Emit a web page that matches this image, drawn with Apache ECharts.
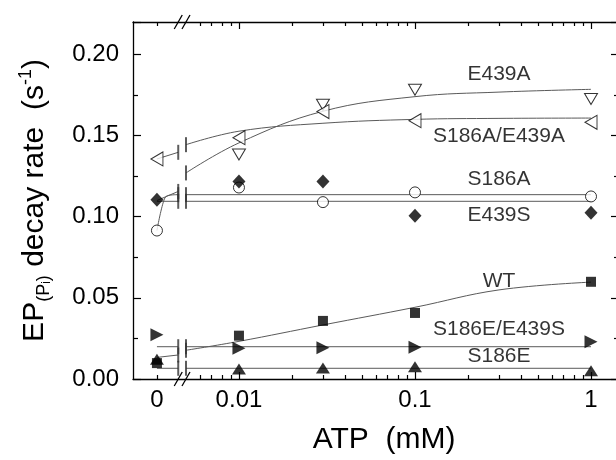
<!DOCTYPE html>
<html>
<head>
<meta charset="utf-8">
<script src="https://cdn.jsdelivr.net/npm/echarts@6/dist/echarts.min.js"></script>
<style>
  html, body { margin: 0; padding: 0; background: #fff; overflow: hidden; }
  #chart { width: 619px; height: 460px; }
</style>
</head>
<body>
<div id="chart"></div>
<script>
// ATP concentrations (mM) of the measured points
const atp = [0, 0.01, 0.03, 0.1, 1];

// measured decay rates (s-1); null where no point is visible
const wt = [0.0098, 0.0267, 0.0358, 0.0407, 0.0599];
const s186eE439s = [0.0272, 0.0190, 0.0193, 0.0196, 0.0230];
const s186e = [0.0121, 0.0062, 0.0068, 0.0076, 0.0051];
const s186a = [0.0915, 0.1180, 0.1090, 0.1150, 0.1125];
const e439s = [0.1105, 0.1217, 0.1217, 0.1006, 0.1025];
const e439a = [null, 0.1383, 0.1690, 0.1782, 0.1725];
const s186aE439a = [0.1356, 0.1487, 0.1648, 0.1592, 0.1582];

// fitted curves: [ATP, rate], part left of the break and part right of it
const wtFitZero = [[0, 0.0133], [0.001, 0.0148]];
const wtFit = [[0.005, 0.0177], [0.01, 0.0232], [0.03, 0.0333], [0.1, 0.0442], [0.3, 0.0549], [1, 0.0597]];
const s186eE439sFitZero = [[0, 0.0199], [0.001, 0.0199]];
const s186eE439sFit = [[0.005, 0.0199], [1, 0.0199]];
const s186eFitZero = [[0, 0.0066], [0.001, 0.0066]];
const s186eFit = [[0.005, 0.0066], [1, 0.0066]];
const s186aFitZero = [[0, 0.0915], [0.0003, 0.1090], [0.0005, 0.1130], [0.001, 0.1136]];
const s186aFit = [[0.005, 0.1136], [1, 0.1136]];
const e439sFitZero = [[0, 0.1095], [0.001, 0.1095]];
const e439sFit = [[0.005, 0.1095], [1, 0.1095]];
const e439aFitZero = [[0, 0.1100], [0.001, 0.1156]];
const e439aFit = [[0.005, 0.1270], [0.01, 0.1455], [0.03, 0.1650], [0.1, 0.1740], [0.3, 0.1768], [1, 0.1785]];
const s186aE439aFitZero = [[0, 0.1356], [0.001, 0.1397]];
const s186aE439aFit = [[0.005, 0.1444], [0.01, 0.1527], [0.03, 0.1576], [0.1, 0.1600], [0.3, 0.1606], [1, 0.1608]];

// series names and where their names are written
const seriesNames = ['E439A', 'S186A/E439A', 'S186A', 'E439S', 'WT', 'S186E/E439S', 'S186E'];
const nameRates = [0.188, 0.1494, 0.1229, 0.1008, 0.0602, 0.0307, 0.0141];
const nameAtp = 0.3;

// x axis ticks
const tickValues = [0, 0.01, 0.1, 1];
const tickLabels = ['0', '0.01', '0.1', '1'];
const majorTicks = [0.01, 0.1, 1];
const minorTicks = [0, 0.006, 0.007, 0.008, 0.009,
    0.02, 0.03, 0.04, 0.05, 0.06, 0.07, 0.08, 0.09,
    0.2, 0.3, 0.4, 0.5, 0.6, 0.7, 0.8, 0.9];

// broken axis: 0..ZERO_SPAN drawn linearly left of the break, log scale from LOG_START on
const ZERO_SPAN = 0.001;
const LOG_START = 0.005;
const U_ZERO = -2.466;
const U_BREAK = -2.345;
const X_MIN = -2.602;
const X_MAX = 0.159;

function toAxis(c) {
    if (c <= ZERO_SPAN) return U_ZERO + (c / ZERO_SPAN) * (U_BREAK - U_ZERO);
    return Math.log10(c);
}

const FONT = '"Liberation Sans", Arial, sans-serif';
const chart = echarts.init(document.getElementById('chart'));

const pts = (arr) => arr.map(([c, r]) => [toAxis(c), r]);
const measured = (vals) => atp.map((c, i) => [toAxis(c), vals[i]]).filter(p => p[1] !== null);

function fitSeries(part) {
    return {
        type: 'line',
        data: pts(part),
        smooth: part.length > 2 ? 0.4 : false,
        showSymbol: false,
        symbol: 'none',
        lineStyle: { color: '#5a5a5a', width: 1 },
        z: 2,
        silent: true
    };
}

const fits = [
    [wtFitZero, wtFit], [s186eE439sFitZero, s186eE439sFit], [s186eFitZero, s186eFit],
    [s186aFitZero, s186aFit], [e439sFitZero, e439sFit], [e439aFitZero, e439aFit],
    [s186aE439aFitZero, s186aE439aFit]
];

const series = [];
fits.forEach(([zero, right]) => {
    series.push(fitSeries(zero));
    series.push(fitSeries(right));
});

// end caps of every curve at the break
const caps = [];
fits.forEach(([zero, right]) => {
    const a = zero[zero.length - 1];
    const b = right[0];
    caps.push([toAxis(a[0]), a[1]]);
    caps.push([toAxis(b[0]), b[1]]);
});
series.push({
    type: 'scatter', data: caps, symbol: 'rect', symbolSize: [2, 15],
    itemStyle: { color: '#333' }, z: 3, silent: true
});

const open = { color: '#fff', borderColor: '#000', borderWidth: 1 };
const filled = { color: '#000' };
function markers(vals, symbol, size, style, rotate) {
    return {
        type: 'scatter', data: measured(vals), symbol: symbol, symbolSize: size,
        symbolRotate: rotate || 0, itemStyle: style, z: 5, silent: true
    };
}
series.push(markers(e439a, 'triangle', [13, 11], open, 180));
series.push(markers(s186aE439a, 'triangle', [14, 12], open, 90));
series.push(markers(s186a, 'circle', 11, open));
series.push(markers(e439s, 'diamond', [13, 14], filled));
series.push(markers(wt, 'rect', 10, filled));
series.push(markers(s186e, 'triangle', [14, 11], filled));
series.push(markers(s186eE439s, 'triangle', [13, 13], filled, -90));

// series names
series.push({
    type: 'scatter',
    data: seriesNames.map((n, i) => ({ name: n, value: [toAxis(nameAtp), nameRates[i]] })),
    symbolSize: 0,
    label: {
        show: true, position: 'inside', formatter: '{b}',
        fontFamily: FONT, fontSize: 21, color: '#000'
    },
    z: 6, silent: true
});

const axisLine = { show: true, onZero: false, lineStyle: { color: '#000', width: 1.3 } };
const tickStyle = { color: '#000', width: 1.2 };

function xAxis(position, ticks, len, showLine) {
    return {
        type: 'value', gridIndex: 0, position: position, min: X_MIN, max: X_MAX,
        axisLine: showLine ? axisLine : { show: false, onZero: false },
        axisTick: { show: true, inside: true, length: len, lineStyle: tickStyle,
            customValues: ticks.map(toAxis) },
        axisLabel: { show: false },
        splitLine: { show: false }
    };
}

const xBottom = xAxis('bottom', majorTicks, 7, true);
xBottom.axisLabel = {
    show: true, fontFamily: FONT, fontSize: 24, color: '#000', margin: 9,
    customValues: tickValues.map(toAxis),
    formatter: (v) => {
        const i = tickValues.findIndex(t => Math.abs(toAxis(t) - v) < 1e-6);
        return i >= 0 ? tickLabels[i] : '';
    }
};
xBottom.name = 'ATP  (mM)';
xBottom.nameLocation = 'middle';
xBottom.nameGap = 46;
xBottom.nameTextStyle = { fontFamily: FONT, fontSize: 30, color: '#000', padding: [0, 0, 0, 16] };

function yAxis(position, withLabels) {
    const ax = {
        type: 'value', position: position, min: 0, max: 0.22, interval: 0.05,
        axisLine: axisLine,
        axisTick: { show: true, inside: true, length: 8, lineStyle: tickStyle },
        minorTick: { show: true, splitNumber: 2, length: 5, lineStyle: tickStyle },
        axisLabel: { show: false },
        splitLine: { show: false },
        minorSplitLine: { show: false }
    };
    if (withLabels) {
        ax.axisLabel = {
            show: true, fontFamily: FONT, fontSize: 24, color: '#000', margin: 14,
            showMaxLabel: false, formatter: (v) => v.toFixed(2)
        };
        ax.name = '{n|EP}{s|(P}{ss|i}{s|)}{n| decay rate  (s}{sup|-1}{n|)}';
        ax.nameLocation = 'middle';
        ax.nameRotate = 90;
        ax.nameGap = 80;
        ax.nameTextStyle = {
            fontFamily: FONT, color: '#000', fontSize: 30,
            rich: {
                n: { fontFamily: FONT, fontSize: 30, lineHeight: 36 },
                s: { fontFamily: FONT, fontSize: 18, verticalAlign: 'bottom', lineHeight: 36 },
                ss: { fontFamily: FONT, fontSize: 12, verticalAlign: 'bottom', lineHeight: 30 },
                sup: { fontFamily: FONT, fontSize: 18, verticalAlign: 'top', lineHeight: 36 }
            }
        };
    }
    return ax;
}

chart.setOption({
    animation: false,
    backgroundColor: '#fff',
    grid: { left: 133, right: 0, top: 22, bottom: 80, containLabel: false },
    xAxis: [
        xBottom,
        xAxis('bottom', minorTicks, 4, false),
        xAxis('top', majorTicks, 7, true),
        xAxis('top', minorTicks, 4, false)
    ],
    yAxis: [yAxis('left', true), yAxis('right', false)],
    series: series
});

// "//" marks of the axis break on the bottom and top axes
const xs = [toAxis(ZERO_SPAN), toAxis(LOG_START)].map(u => chart.convertToPixel({ xAxisIndex: 0 }, u));
const ys = [0, 0.22].map(v => chart.convertToPixel({ yAxisIndex: 0 }, v));
const slashes = [];
ys.forEach(y => {
    xs.forEach(x => {
        slashes.push({
            type: 'line',
            shape: { x1: x - 4, y1: y + 7, x2: x + 4, y2: y - 7 },
            style: { stroke: '#000', lineWidth: 1.3 },
            z: 10
        });
    });
});
chart.setOption({ graphic: slashes });
</script>
</body>
</html>
